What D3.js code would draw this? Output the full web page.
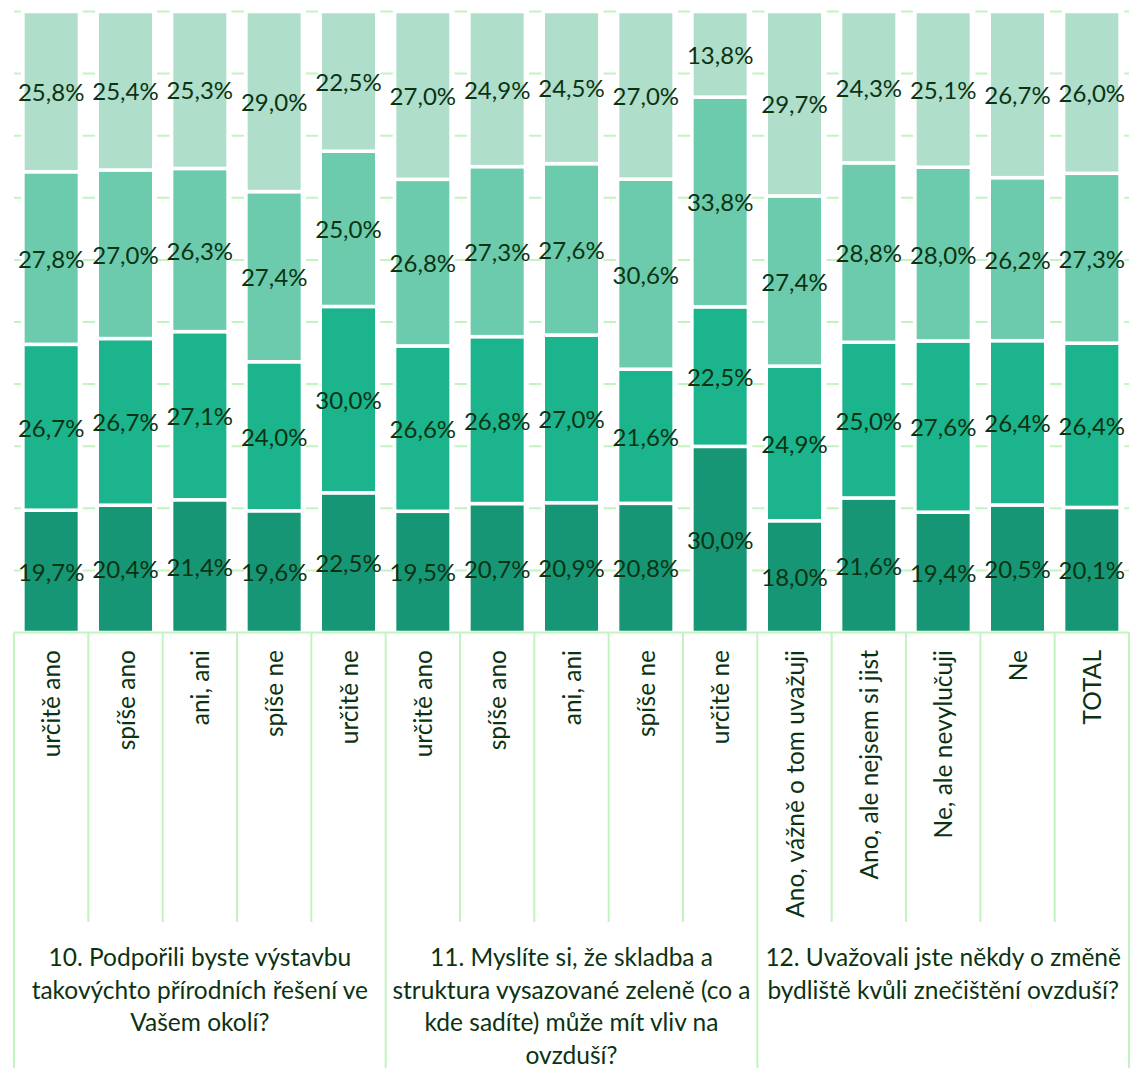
<!DOCTYPE html>
<html><head><meta charset="utf-8">
<script src="https://cdn.jsdelivr.net/npm/d3@7"></script>
<style>body{margin:0;background:#fff}svg{display:block}</style>
</head><body>
<svg id="c" width="1130" height="1068"></svg>
<script>
const categories = ["určitě ano","spíše ano","ani, ani","spíše ne","určitě ne",
  "určitě ano","spíše ano","ani, ani","spíše ne","určitě ne",
  "Ano, vážně o tom uvažuji","Ano, ale nejsem si jist","Ne, ale nevylučuji","Ne","TOTAL"];
// series from bottom to top
const s1 = [19.7,20.4,21.4,19.6,22.5,19.5,20.7,20.9,20.8,30.0,18.0,21.6,19.4,20.5,20.1];
const s2 = [26.7,26.7,27.1,24.0,30.0,26.6,26.8,27.0,21.6,22.5,24.9,25.0,27.6,26.4,26.4];
const s3 = [27.8,27.0,26.3,27.4,25.0,26.8,27.3,27.6,30.6,33.8,27.4,28.8,28.0,26.2,27.3];
const s4 = [25.8,25.4,25.3,29.0,22.5,27.0,24.9,24.5,27.0,13.8,29.7,24.3,25.1,26.7,26.0];
const seriesColors = ["#169675","#1bb48c","#6ccbad","#afdecb"];
const groupSizes = [5,5,5];
const groupLabels = [
  ["10. Podpořili byste výstavbu","takovýchto přírodních řešení ve","Vašem okolí?"],
  ["11. Myslíte si, že skladba a","struktura vysazované zeleně (co a","kde sadíte) může mít vliv na","ovzduší?"],
  ["12. Uvažovali jste někdy o změně","bydliště kvůli znečištění ovzduší?"]
];
const gridTicks = [0.1,0.2,0.3,0.4,0.5,0.6,0.7,0.8,0.9,1.0];

const svg = d3.select("#c");
const FONT = "Lato, 'Open Sans', sans-serif";
const TXT = "#0b3312";
const LINE = "#c3f3bf";
const x0 = 14, x1 = 1129, yTop = 11.5, yBase = 632.5, tableMid = 922, tableBot = 1068;

const x = d3.scaleBand().domain(d3.range(categories.length)).range([x0, x1]).paddingInner(0.24).paddingOuter(0.12);
const y = d3.scaleLinear().domain([0,1]).range([yBase, yTop]);

// gridlines
svg.append("g").selectAll("line").data(gridTicks).join("line")
  .attr("x1", x0).attr("x2", x1).attr("y1", d=>y(d)).attr("y2", d=>y(d))
  .attr("stroke", LINE).attr("stroke-width", 2)
  .attr("stroke-dasharray", "12.6,6").attr("stroke-dashoffset", 5.7);

// stacked data (100% stacked)
const series = [s1,s2,s3,s4];
const rows = categories.map((c,i)=>{
  const tot = series.reduce((a,s)=>a+s[i],0);
  let acc = 0;
  return series.map((s,k)=>{ const v0 = acc/tot; acc += s[i]; return {i,k,v:s[i],y0:v0,y1:acc/tot}; });
});
const segs = rows.flat();
svg.append("g").selectAll("rect").data(segs).join("rect")
  .attr("x", d=>x(d.i)).attr("width", x.bandwidth())
  .attr("y", d=>y(d.y1)).attr("height", d=>y(d.y0)-y(d.y1))
  .attr("fill", d=>seriesColors[d.k]).attr("stroke","#fff").attr("stroke-width",3.5);

// value labels
svg.append("g").selectAll("text").data(segs).join("text")
  .attr("x", d=>x(d.i)+x.bandwidth()/2).attr("y", d=>y((d.y0+d.y1)/2))
  .attr("text-anchor","middle").attr("dominant-baseline","central")
  .attr("font-family",FONT).attr("font-size",24).attr("fill",TXT)
  .text(d=>d.v.toFixed(1).replace(".",",")+"%");

// table lines
const tg = svg.append("g").attr("stroke", LINE).attr("stroke-width",2);
tg.append("line").attr("x1",x0).attr("x2",x1).attr("y1",yBase).attr("y2",yBase);
const step = x.step();
const bounds = d3.range(categories.length+1).map(i=>x0+i*step);
let groupEdges = [0]; groupSizes.reduce((a,g)=>{groupEdges.push(a+g); return a+g;},0);
bounds.forEach((bx,i)=>{
  const isGroup = groupEdges.includes(i);
  tg.append("line").attr("x1",bx).attr("x2",bx).attr("y1",yBase).attr("y2", isGroup?tableBot:tableMid);
});

// category labels (rotated)
svg.append("g").selectAll("text").data(categories).join("text")
  .attr("transform",(d,i)=>`translate(${x(i)+x.bandwidth()/2+9},650) rotate(-90)`)
  .attr("text-anchor","end")
  .attr("font-family",FONT).attr("font-size",24.5).attr("fill",TXT)
  .text(d=>d);

// group labels
let start = 0;
groupSizes.forEach((g,gi)=>{
  const cx = x0 + (start + g/2)*step;
  const t = svg.append("text").attr("text-anchor","middle")
    .attr("font-family",FONT).attr("font-size",24.5).attr("fill",TXT);
  groupLabels[gi].forEach((ln,li)=>{
    t.append("tspan").attr("x",cx).attr("y",966+li*32.5).text(ln);
  });
  start += g;
});
</script>
</body></html>
